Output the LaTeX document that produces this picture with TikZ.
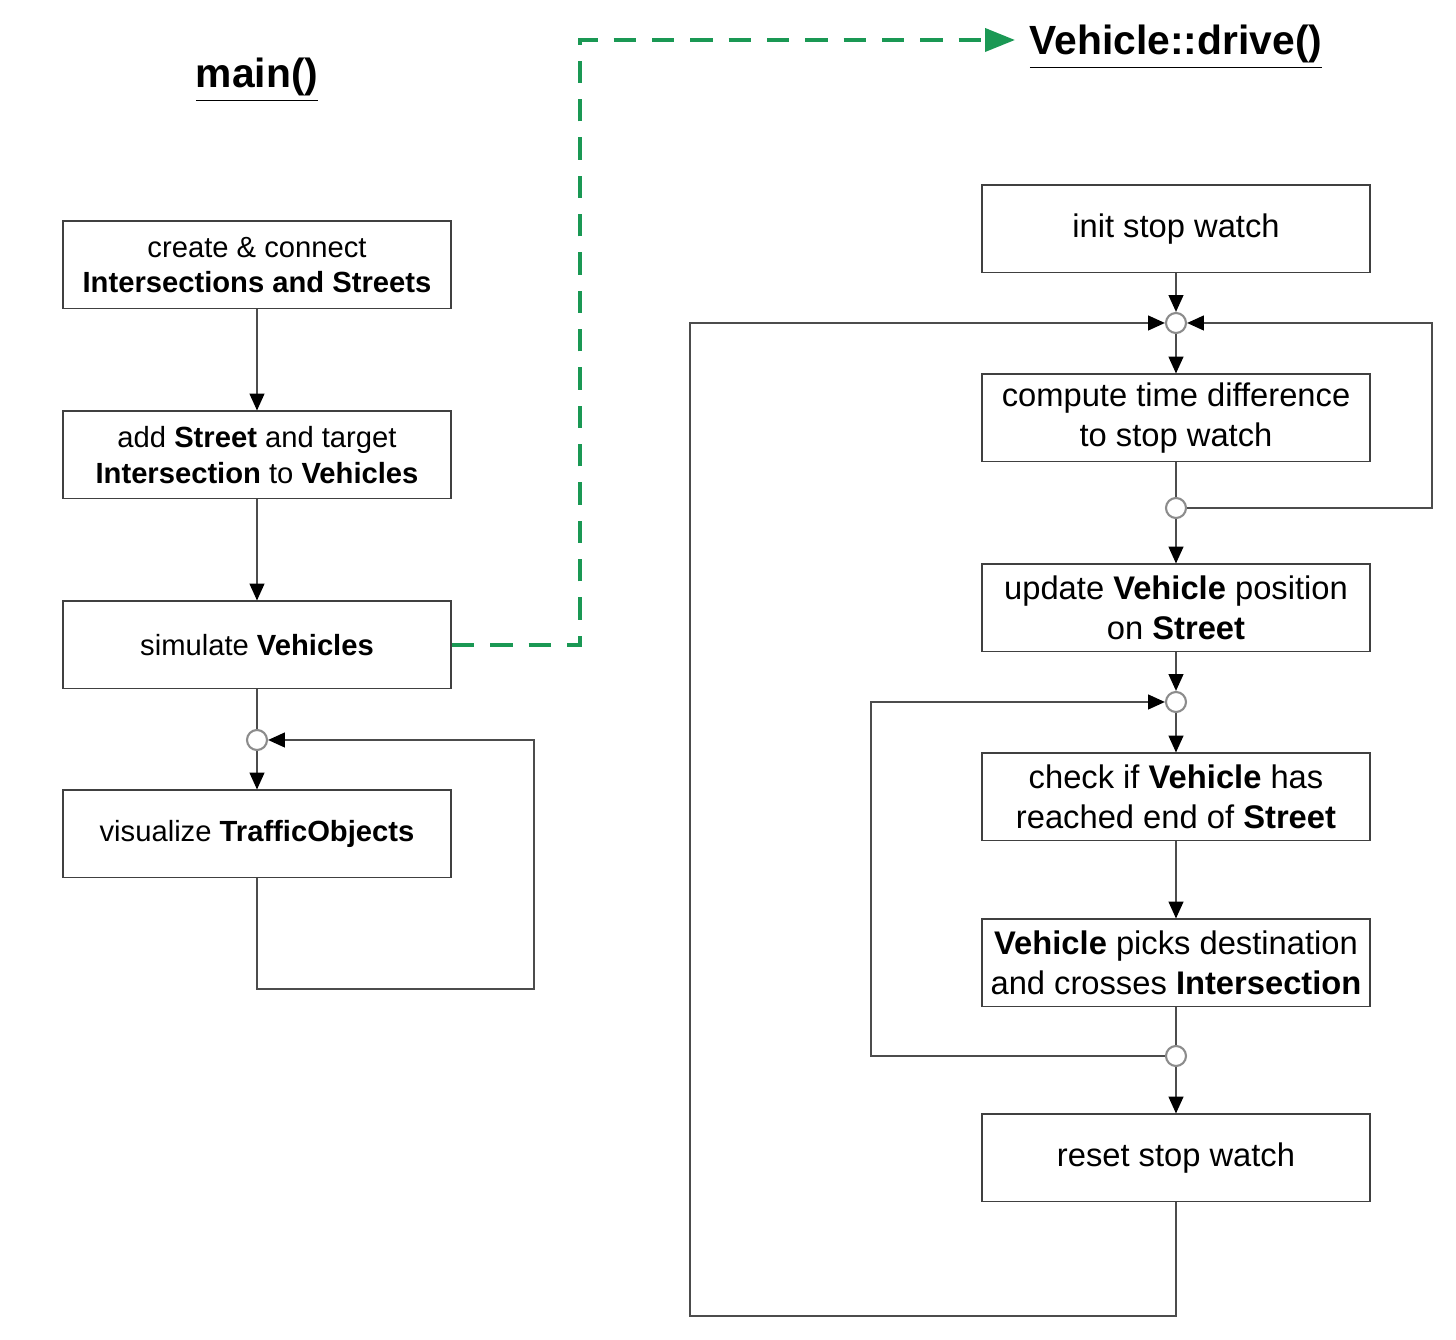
\documentclass[tikz,border=0pt]{standalone}
\usepackage{fontspec}
\setmainfont{Liberation Sans}
\usetikzlibrary{positioning}
\usetikzlibrary{arrows.meta}
\definecolor{mygreen}{RGB}{26,152,84}
\tikzset{
    mynode/.style = {rectangle, draw=black!75, line width=0.55pt, align=center, fill=white, minimum width=3.88cm, minimum height=0.87cm, inner sep=0pt, font=\fontsize{9.3}{11.4}\selectfont, text=black},
    mynodel/.style = {mynode, font=\fontsize{8.3}{10.2}\selectfont},
    mynodej/.style = {circle, draw=black!45, line width=0.6pt, fill=white, minimum size=0.2cm, inner sep=0pt},
    mytitle/.style = {font=\fontsize{11.6}{14}\selectfont\bfseries, text=black, inner sep=4pt},
    edgen/.style = {-, line width=0.55pt, black!70},
    edgea/.style = {-{Triangle[length=4.8pt,width=4.2pt,color=black]}, line width=0.55pt, black!70},
    edgeg/.style = {-{Triangle[length=8.5pt,width=6.5pt]}, line width=1.15pt, mygreen, dash pattern=on 6.3pt off 4.6pt}, % call
}

\begin{document}
\begin{tikzpicture}[x=0.01cm,y=-0.01cm]
\useasboundingbox[fill=white] (0,0) rectangle (1456,1340);

\node[mytitle] at ( 257,  80) (main) {\underline{main()}};
\node[mytitle] at (1176,  47) (drive) {\underline{Vehicle::drive()}};

% main()
\node[mynodel] at ( 257, 265) (1) {create \& connect\\\textbf{Intersections and Streets}};
\node[mynodel] at ( 257, 455) (2) {add \textbf{Street} and target\\\textbf{Intersection} to \textbf{Vehicles}};
\node[mynodel] at ( 257, 645) (3) {simulate \textbf{Vehicles}};
\node[mynodel] at ( 257, 834) (4) {visualize \textbf{TrafficObjects}};
\node[mynodej] at ( 257, 740) (j0) {};
\coordinate (l1) at ( 534, 989);

\draw[edgea] (1) -- (2);
\draw[edgea] (2) -- (3);
\draw[edgen] (3) -- (j0);
\draw[edgea] (j0) -- (4);
\draw[edgea] (4) |- (l1) |- (j0);

% Vehicle::drive()
\node[mynode] at (1176, 229) (5) {init stop watch};
\node[mynode] at (1176, 418) (6) {compute time difference\\to stop watch};
\node[mynode] at (1176, 608) (7) {update \textbf{Vehicle} position\\on \textbf{Street}};
\node[mynode] at (1176, 797) (8) {check if \textbf{Vehicle} has\\reached end of \textbf{Street}};
\node[mynode] at (1176, 963) (9) {\textbf{Vehicle} picks destination\\and crosses \textbf{Intersection}};
\node[mynode] at (1176,1158) (10) {reset stop watch};
\node[mynodej] at (1176, 323) (j1) {};
\node[mynodej] at (1176, 508) (j2) {};
\node[mynodej] at (1176, 702) (j3) {};
\node[mynodej] at (1176,1056) (j4) {};
\coordinate (r1) at ( 690,1316);
\coordinate (r2) at (1432, 508);
\coordinate (r3) at ( 871,1056);

\draw[edgea] (5) -- (j1);
\draw[edgea] (j1) -- (6);
\draw[edgen] (6) -- (j2);
\draw[edgea] (j2) -- (7);
\draw[edgea] (7) -- (j3);
\draw[edgea] (j3) -- (8);
\draw[edgea] (8) -- (9);
\draw[edgen] (9) -- (j4);
\draw[edgea] (j4) -- (10);
\draw[edgea] (j2) -- (r2) |- (j1);
\draw[edgea] (j4) -- (r3) |- (j3);
\draw[edgea] (10) |- (r1) |- (j1);

% call
\coordinate (g1) at ( 580,  40);
\draw[edgeg] (3) -| (g1) -- (g1 -| drive.west);

\end{tikzpicture}
\end{document}
